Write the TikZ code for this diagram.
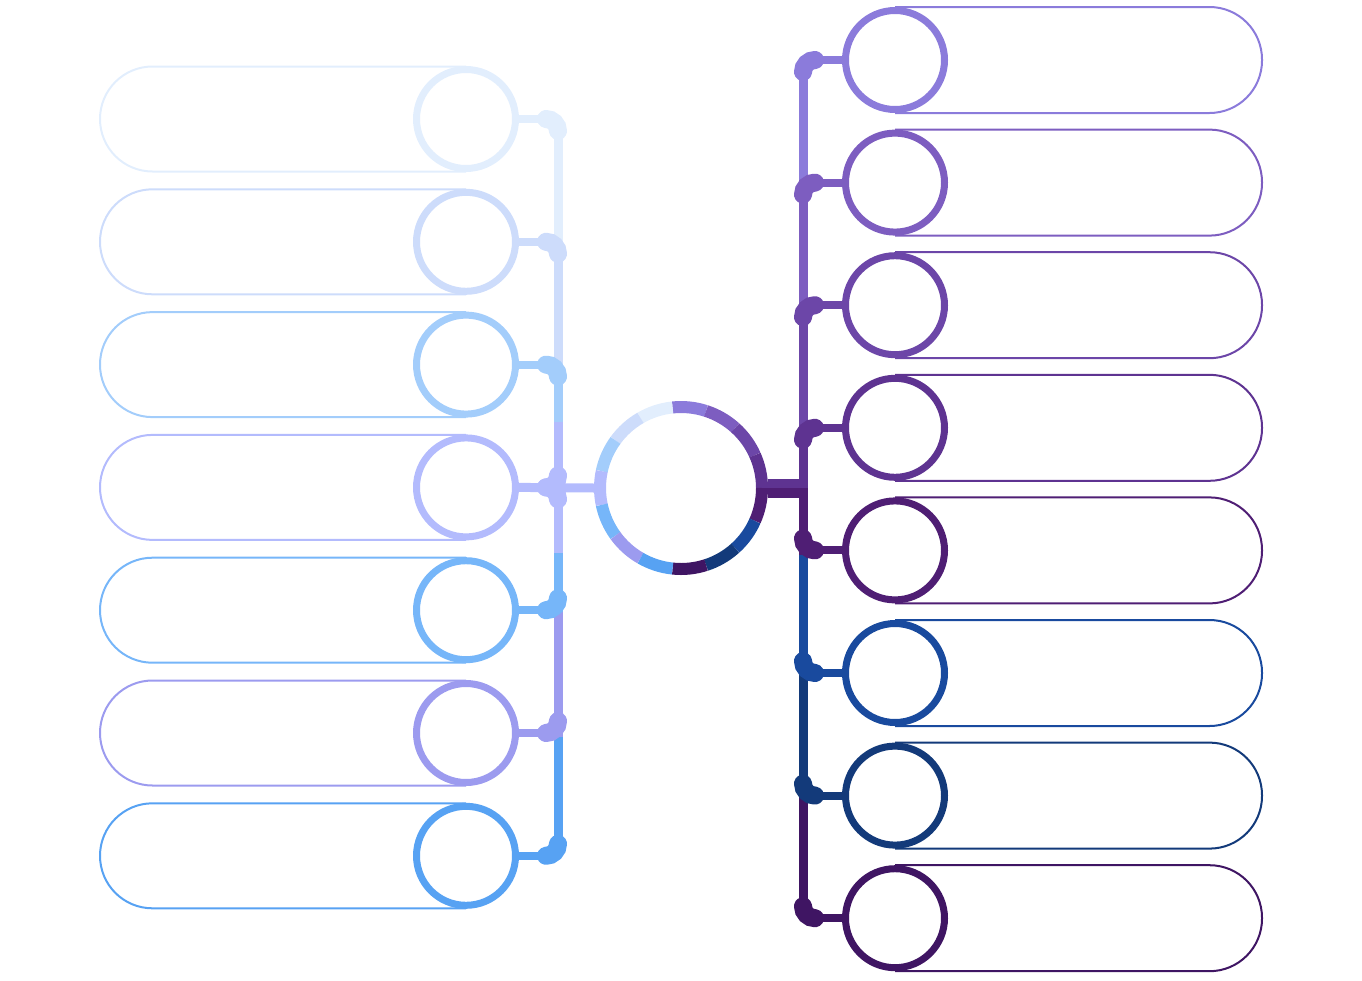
\documentclass[tikz,border=0pt]{standalone}
\usepackage{tikz}
\usetikzlibrary{calc}

\definecolor{lA}{HTML}{E2EEFD}
\definecolor{lB}{HTML}{CDDCFB}
\definecolor{lC}{HTML}{A3CDFB}
\definecolor{lD}{HTML}{B3BBFD}
\definecolor{lE}{HTML}{76B6F9}
\definecolor{lF}{HTML}{9C9BEF}
\definecolor{lG}{HTML}{57A2F3}
\definecolor{rA}{HTML}{8B7BDB}
\definecolor{rB}{HTML}{7D5DC0}
\definecolor{rC}{HTML}{6C46A8}
\definecolor{rD}{HTML}{5E3391}
\definecolor{rE}{HTML}{4F1E74}
\definecolor{rF}{HTML}{194A9E}
\definecolor{rG}{HTML}{133A7A}
\definecolor{rH}{HTML}{3F1563}

\tikzset{
  ring/.style={circle,draw,fill=white,line width=7pt,minimum size=99pt,inner sep=0pt},
  pill/.style={line width=2pt,rounded corners=52.5pt},
  elbow/.style={line width=18pt,line cap=round}
}

\begin{document}
\begin{tikzpicture}[x=1pt,y=-1pt,line width=8pt]
\useasboundingbox (0,0) rectangle (1362,980);

        % trunks
        \foreach \c/\a/\b in {lA/129/255,lB/255/377,lC/377/422,lD/422/553,lE/553/612,lF/612/737,lG/737/846}
          \draw[\c,line width=9pt] (558,\a) -- (558,\b);
        \foreach \c/\a/\b in {rA/70/180,rB/180/305,rC/305/427,rD/427/488,rE/488/555,rF/555/668,rG/668/797,rH/797/908}
          \draw[\c,line width=9pt] (803,\a) -- (803,\b);

        % left rows
        \foreach \c [count=\i] in {lA,lB,lC,lD,lE,lF,lG} {
          \pgfmathsetmacro\yy{119+122.8*(\i-1)}
          \draw[\c,pill] (466,\yy-52.5) -- (100,\yy-52.5) -- (100,\yy+52.5) -- (466,\yy+52.5);
          \node[ring,draw=\c] (l\i) at (466,\yy) {};
          \draw[\c] (l\i.east) -- (546,\yy);
          \ifnum\i<5 \draw[\c,elbow] (546,\yy) arc[start angle=270,end angle=360,radius=12]; \fi
          \ifnum\i>3 \draw[\c,elbow] (546,\yy) arc[start angle=90,end angle=0,radius=12]; \fi
        }

        % right rows
        \foreach \c/\s [count=\i] in {rA/270,rB/270,rC/270,rD/270,rE/90,rF/90,rG/90,rH/90} {
          \pgfmathsetmacro\yy{60+122.6*(\i-1)}
          \draw[\c,pill] (895,\yy-53) -- (1262,\yy-53) -- (1262,\yy+53) -- (895,\yy+53);
          \node[ring,draw=\c] (r\i) at (895,\yy) {};
          \draw[\c] (r\i.west) -- (815,\yy);
          \draw[\c,elbow] (815,\yy) arc[start angle=\s,end angle=180,radius=12];
        }

        % hub
        \node[circle,minimum size=174pt,inner sep=0pt,outer sep=0pt] (hub) at (681,488) {};
        \coordinate (rj) at (807,488);
        \draw[lD,line width=9pt] (l4.east) -- (hub.west);
        \draw[rD,line width=9.5pt] ([yshift=4.75pt]hub.east) -- ([yshift=4.75pt]rj);
        \draw[rE,line width=9.5pt] ([yshift=-4.75pt]hub.east) -- ([yshift=-4.75pt]rj);
        \foreach \c [count=\k] in {rA,rB,rC,rD,rE,rF,rG,rH}
          \draw[\c,line width=12pt] (hub.center) ++(-120+24*\k:81) arc[start angle=-120+24*\k,end angle=-96+24*\k,radius=81];
        \foreach \c [count=\j] in {lA,lB,lC,lD,lE,lF,lG}
          \draw[\c,line width=12pt] (hub.center) ++(-96-24*\j:81) arc[start angle=-96-24*\j,end angle=-72-24*\j,radius=81];

      \end{tikzpicture}
\end{document}
